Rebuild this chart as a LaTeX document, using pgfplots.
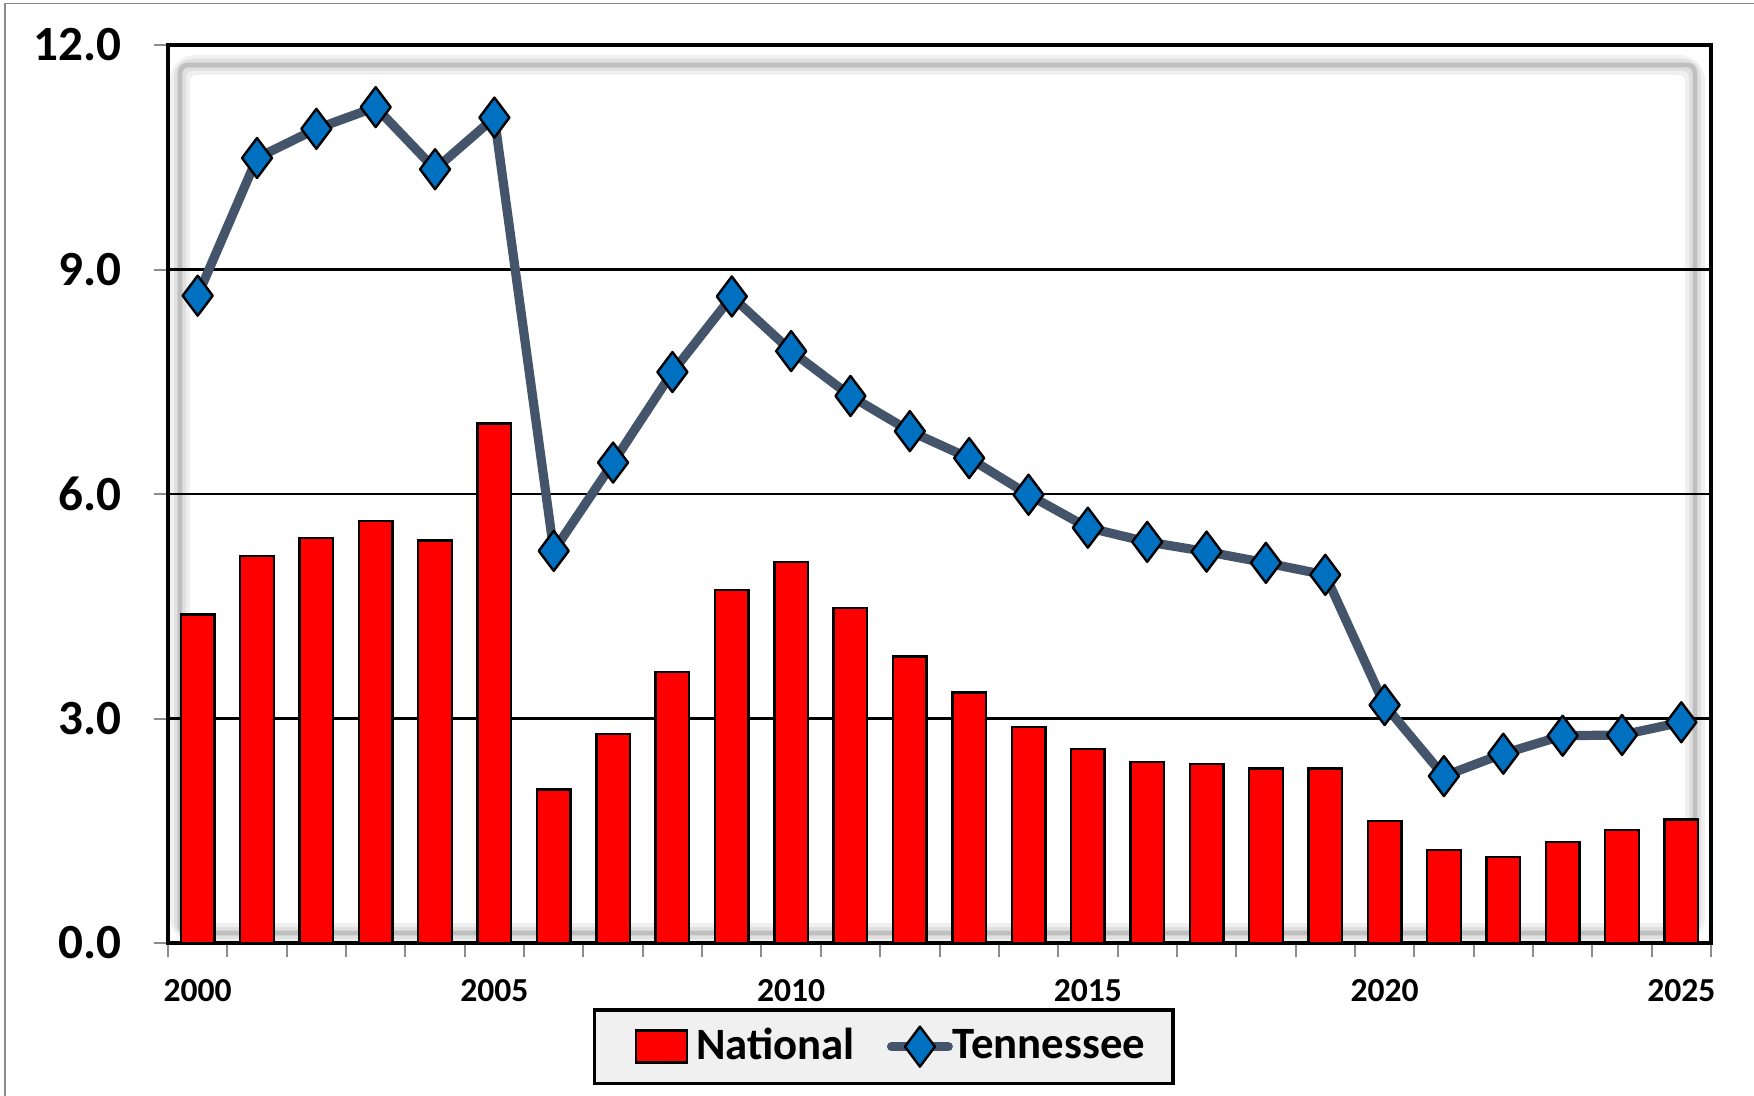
\documentclass[border=0pt]{standalone}
\usepackage{pgfplots}
\pgfplotsset{compat=1.18}
\usepackage{fontspec}
\setmainfont{Carlito}
\definecolor{tnline}{HTML}{44546A}
\definecolor{tnmark}{HTML}{0070C0}
\definecolor{legbg}{HTML}{F0F0F0}
\pgfplotsset{
  barlegend/.style={legend image code/.code={\path[draw=none, fill=none] (0pt,-4pt) rectangle (18.1pt,4pt);\draw[fill=red, draw=black, line width=0.6pt] (5.3pt,-4pt) rectangle (18.1pt,4pt);}},
  linelegend/.style={legend image code/.code={\draw[##1, mark repeat=2, mark phase=2] plot coordinates {(0pt,0pt) (7.1pt,0pt) (14.2pt,0pt)};}},
}
\begin{document}
\begin{tikzpicture}
\path[use as bounding box] (0,0) rectangle (438.5pt,273.75pt);
\draw[black!45, line width=0.4pt] (1.2pt,-5pt) rectangle (445pt,272.9pt);
% inner shadow of plot area
\draw[black!6, line width=5pt, rounded corners=4pt] (45pt,40.5pt) rectangle (423.75pt,257.5pt);
\draw[black!12, line width=3pt, rounded corners=3pt] (45pt,40.5pt) rectangle (423.75pt,257.5pt);
\draw[black!25, line width=1.2pt, rounded corners=2pt] (45pt,40.5pt) rectangle (423.75pt,257.5pt);
\begin{axis}[
  at={(42pt,38pt)}, anchor=south west,
  width=385.75pt, height=224.5pt, scale only axis,
  xmin=-0.5, xmax=25.5, ymin=0, ymax=12,
  ytick={0,3,6,9,12},
  ymajorgrids, grid style={black, line width=0.6pt},
  axis line style={black, line width=0.8pt},
  tick align=outside, tick pos=left,
  major tick length=3.5pt,
  tick style={black!45, line width=0.5pt},
  xtick={-0.5,0.5,...,25.5},
  xticklabels={},
  extra x ticks={0,5,10,15,20,25},
  extra x tick labels={2000,2005,2010,2015,2020,2025},
  extra x tick style={major tick length=0pt, grid=none},
  x tick label style={font=\bfseries\fontsize{8.4}{9}\selectfont, yshift=-5.6pt},
  y tick label style={font=\bfseries\fontsize{12.3}{13}\selectfont, xshift=-4.5pt,
     /pgf/number format/fixed, /pgf/number format/fixed zerofill, /pgf/number format/precision=1},
  /pgf/number format/assume math mode=true,
  legend columns=2,
  legend style={at={(0.464,-0.1154)}, anchor=center, fill=legbg, draw=black, line width=0.9pt,
     font=\bfseries\fontsize{11.2}{12}\selectfont, inner xsep=5pt, inner ysep=2.5pt,
     /tikz/every even column/.append style={column sep=6pt}},
  legend cell align=left,
]
\addplot[ybar, bar width=8.4pt, fill=red, draw=black, line width=0.6pt, barlegend]
coordinates {
(0,4.39) (1,5.17) (2,5.41) (3,5.64) (4,5.38) (5,6.94) (6,2.05) (7,2.79) (8,3.62) (9,4.72)
(10,5.09) (11,4.48) (12,3.83) (13,3.35) (14,2.89) (15,2.59) (16,2.42) (17,2.39) (18,2.33) (19,2.33)
(20,1.63) (21,1.24) (22,1.15) (23,1.35) (24,1.51) (25,1.65)
};
\addlegendentry{National}
\addplot[tnline, line width=2.3pt, line join=round, line cap=round,
  mark=diamond*, mark size=5pt,
  mark options={fill=tnmark, draw=black, line width=0.6pt}, linelegend]
coordinates {
(0,8.65) (1,10.49) (2,10.88) (3,11.17) (4,10.34) (5,11.03) (6,5.24) (7,6.42) (8,7.63) (9,8.64)
(10,7.91) (11,7.31) (12,6.84) (13,6.48) (14,5.99) (15,5.55) (16,5.36) (17,5.23) (18,5.08) (19,4.92)
(20,3.18) (21,2.23) (22,2.53) (23,2.77) (24,2.78) (25,2.95)
};
\addlegendentry{\hspace*{-2pt}Tennessee}
\end{axis}
\end{tikzpicture}
\end{document}
